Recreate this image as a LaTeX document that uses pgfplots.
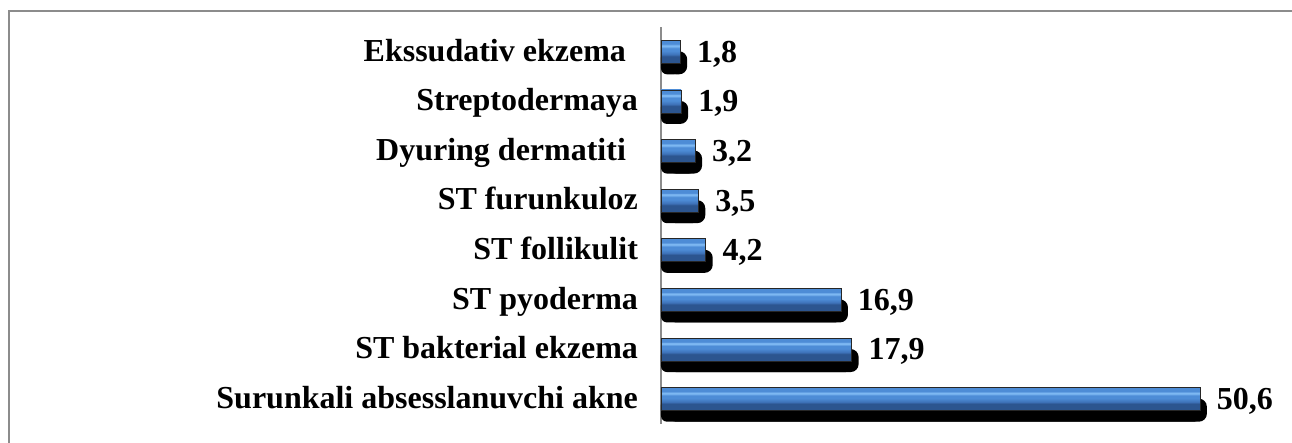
\documentclass[border=0pt]{standalone}
\usepackage{pgfplots}
\pgfplotsset{compat=1.18}
\usepackage{pgfplotstable}
\usepackage{fontspec}
\setmainfont{Liberation Serif}
\definecolor{framegray}{HTML}{8C8C8C}
\definecolor{barlight}{HTML}{7DB8F2}
\definecolor{barmid}{HTML}{4D8CD6}
\definecolor{barlow}{HTML}{3E72B8}
\definecolor{bardark}{HTML}{2C558F}
\pgfdeclareverticalshading{barshade}{100bp}{color(0bp)=(bardark); color(40bp)=(bardark); color(44bp)=(barlow); color(52bp)=(barmid); color(58bp)=(barmid); color(62bp)=(barlight); color(64bp)=(barlight); color(67bp)=(barmid); color(100bp)=(barmid)}
\pgfplotstableread{
y v
0 50.6
1 17.9
2 16.9
3 4.2
4 3.5
5 3.2
6 1.9
7 1.8
}\datatable
\begin{document}
\begin{tikzpicture}
\useasboundingbox (0,0) rectangle (646pt,-221.5pt);
\draw[framegray, line width=1pt] (4.5pt,-240pt) -- (4.5pt,-5.5pt) -- (660pt,-5.5pt);
\begin{axis}[
  at={(330.5pt,-212pt)}, anchor=south west,
  scale only axis,
  width=308.85pt, height=198.5pt,
  xmin=0, xmax=58, ymin=-0.5, ymax=7.5,
  axis x line=none,
  axis y line*=left,
  y axis line style={framegray, line width=0.8pt, -},
  ytick={0,...,7},
  yticklabels={Surunkali absesslanuvchi akne, ST bakterial ekzema, ST pyoderma, ST follikulit, ST furunkuloz, Dyuring dermatiti\kern6pt, Streptodermaya, Ekssudativ ekzema\kern6pt},
  major tick length=0pt,
  yticklabel style={font=\fontsize{16}{19}\selectfont\bfseries, anchor=base east, yshift=-4.6pt, xshift=-8pt},
  xbar, bar width=11.5pt,
  /pgf/number format/assume math mode=true,
  /pgf/number format/use comma,
  /pgf/number format/fixed,
  /pgf/number format/precision=1,
  /pgf/number format/fixed zerofill,
  clip=false,
  bluebar/.style={draw=black!85, line width=0.35pt, shading=barshade, bar shift=0pt,
    nodes near coords,
    nodes near coords style={font=\fontsize{16}{19}\selectfont\bfseries, black, anchor=base west, yshift=-5.2pt, xshift=5pt}},
]
\addplot[fill=black, draw=none, bar shift=-5.5pt, rounded corners=3pt] table[x=v,y=y] {\datatable};
\addplot[fill=black, draw=none, bar shift=-5.5pt, xshift=3.5pt, rounded corners=4pt] table[x=v,y=y] {\datatable};
\addplot[bluebar] coordinates {(50.6,0)};
\addplot[bluebar] coordinates {(17.9,1)};
\addplot[bluebar] coordinates {(16.9,2)};
\addplot[bluebar] coordinates {(4.2,3)};
\addplot[bluebar] coordinates {(3.5,4)};
\addplot[bluebar] coordinates {(3.2,5)};
\addplot[bluebar] coordinates {(1.9,6)};
\addplot[bluebar] coordinates {(1.8,7)};
\end{axis}
\end{tikzpicture}
\end{document}
